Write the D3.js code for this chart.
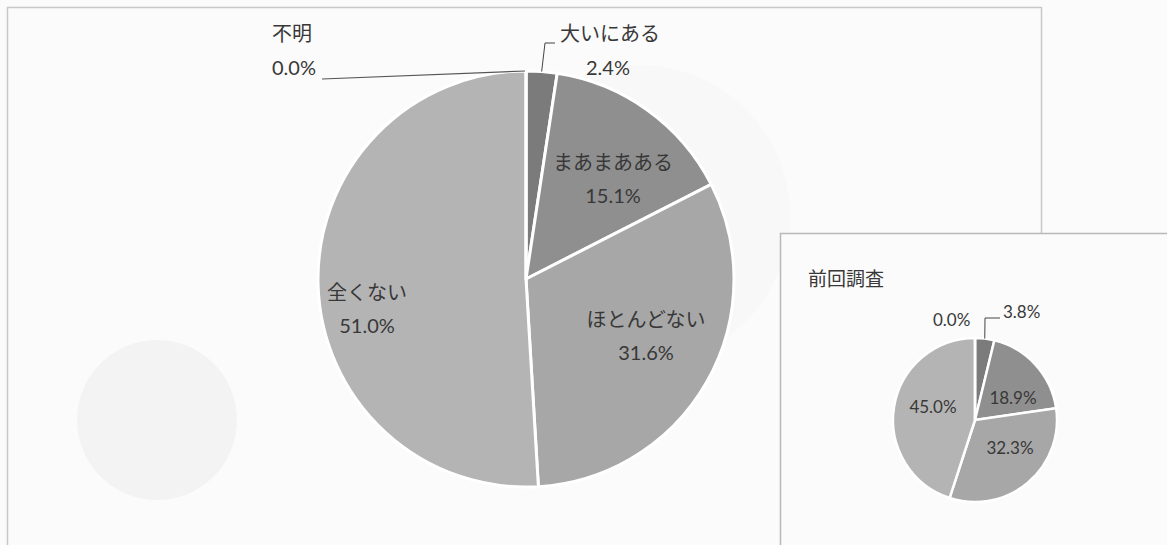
<!DOCTYPE html>
<html><head><meta charset="utf-8">
<script src="https://cdn.jsdelivr.net/npm/d3@7"></script>
<style>
html,body{margin:0;padding:0;background:#fbfbfb;}
svg{display:block;}
text{font-family:"Lato","Noto Sans CJK JP",sans-serif;fill:#383838;}
</style></head>
<body>
<svg id="c" width="1167" height="545"></svg>
<script>
const categories = ["大いにある", "まあまあある", "ほとんどない", "全くない", "不明"];
const currentValues = [2.4, 15.1, 31.6, 51.0, 0.0];
const previousValues = [3.8, 18.9, 32.3, 45.0, 0.0];
const sliceColors = ["#7b7b7b", "#8f8f8f", "#a7a7a7", "#b4b4b4", "#c4c4c4"];
const insetTitle = "前回調査";

const svg = d3.select("#c");
const fmt = d => d.toFixed(1) + "%";

// faint scan bleed-through shapes
svg.append("circle").attr("cx", 157).attr("cy", 420).attr("r", 80).attr("fill", "#f3f3f3");
svg.append("circle").attr("cx", 640).attr("cy", 215).attr("r", 150).attr("fill", "#f8f8f8");

// chart frames
svg.append("path").attr("d", "M7.5,560 V7.5 H1041.5 V233.5")
  .attr("fill", "none").attr("stroke", "#c8c8c8").attr("stroke-width", 1.5);
svg.append("rect").attr("x", 780.5).attr("y", 233.5).attr("width", 420).attr("height", 340)
  .attr("fill", "#fbfbfb").attr("stroke", "#b8b8b8").attr("stroke-width", 1.5);

const pie = d3.pie().sort(null).value(d => d.v);

function drawPie(values, cx, cy, r, sw) {
  const data = values.map((v, i) => ({ v, name: categories[i], i }));
  const arcs = pie(data);
  const arc = d3.arc().innerRadius(0).outerRadius(r);
  const g = svg.append("g").attr("transform", `translate(${cx},${cy})`);
  g.selectAll("path").data(arcs).enter().append("path")
    .attr("d", arc)
    .attr("fill", d => sliceColors[d.data.i])
    .attr("stroke", "#ffffff").attr("stroke-width", sw).attr("stroke-linejoin", "round");
  return { g, arcs, arc };
}

// ---- main pie ----
const m = drawPie(currentValues, 526, 279, 208, 3);
const inside = {
  1: [87, -109],
  2: [120, 48],
  3: [-159, 21]
};
m.arcs.forEach(a => {
  const i = a.data.i;
  if (inside[i]) {
    const [dx, dy] = inside[i];
    const t = m.g.append("text").attr("text-anchor", "middle").attr("font-size", 20);
    t.append("tspan").attr("x", dx).attr("y", dy).text(a.data.name);
    t.append("tspan").attr("x", dx).attr("y", dy + 33).text(fmt(a.data.v));
  }
});
// outside labels main
const a0 = m.arcs[0];
const mid0 = (a0.startAngle + a0.endAngle) / 2;
const p0 = [Math.sin(mid0) * 208, -Math.cos(mid0) * 208];
m.g.append("path")
  .attr("d", `M${p0[0]},${p0[1]} L${19},${-236} L${29},${-236}`)
  .attr("fill", "none").attr("stroke", "#444").attr("stroke-width", 1);
m.g.append("text").attr("x", 84).attr("y", -238).attr("text-anchor", "middle").attr("font-size", 20).text(categories[0]);
m.g.append("text").attr("x", 82).attr("y", -204).attr("text-anchor", "middle").attr("font-size", 20).text(fmt(a0.data.v));

const a4 = m.arcs[4];
m.g.append("path")
  .attr("d", `M${Math.sin(a4.startAngle) * 208 - 1},${-208} L${-204},${-200}`)
  .attr("fill", "none").attr("stroke", "#555").attr("stroke-width", 1.2);
m.g.append("text").attr("x", -254).attr("y", -238).attr("font-size", 20).text(categories[4]);
m.g.append("text").attr("x", -254).attr("y", -204).attr("font-size", 20).text(fmt(a4.data.v));

// ---- inset pie ----
svg.append("text").attr("x", 808).attr("y", 286).attr("font-size", 19).text(insetTitle);
const s = drawPie(previousValues, 975, 420, 82, 2.5);
const insideS = { 1: [38, -16], 2: [35, 34], 3: [-42, -7] };
s.arcs.forEach(a => {
  const i = a.data.i;
  if (insideS[i]) {
    s.g.append("text").attr("x", insideS[i][0]).attr("y", insideS[i][1])
      .attr("text-anchor", "middle").attr("font-size", 17).text(fmt(a.data.v));
  }
});
const b0 = s.arcs[0];
const midb = (b0.startAngle + b0.endAngle) / 2;
s.g.append("path")
  .attr("d", `M${Math.sin(midb) * 82},${-Math.cos(midb) * 82} L${10},${-102} L${25},${-102}`)
  .attr("fill", "none").attr("stroke", "#444").attr("stroke-width", 1);
s.g.append("text").attr("x", 28).attr("y", -102).attr("font-size", 17).text(fmt(b0.data.v));
s.g.append("text").attr("x", -42).attr("y", -94).attr("font-size", 17).text(fmt(s.arcs[4].data.v));
</script>
</body></html>
